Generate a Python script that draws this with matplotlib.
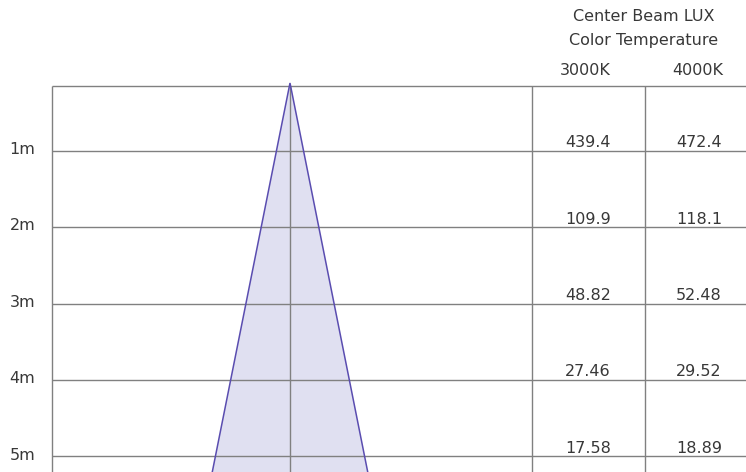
import numpy as np
import matplotlib
matplotlib.use("Agg")
import matplotlib.pyplot as plt

# ---- data ----
distances_m = [1, 2, 3, 4, 5]
row_labels = ["1m", "2m", "3m", "4m", "5m"]
color_temps = ["3000K", "4000K"]
lux_3000k = ["439.4", "109.9", "48.82", "27.46", "17.58"]
lux_4000k = ["472.4", "118.1", "52.48", "29.52", "18.89"]
beam_angle_deg = 22.6
header_title = "Center Beam LUX"
header_sub = "Color Temperature"

# ---- layout (in meter units; 1 m row = 76.4 px) ----
PX = 76.4
W, H = 746, 472
def xm(px):
    return px / PX
def ym(px):
    return 1 + (px - 150.7) / PX

fig = plt.figure(figsize=(W / 100, H / 100), dpi=100)
ax = fig.add_axes([0, 0, 1, 1])
ax.set_xlim(0, xm(W))
ax.set_ylim(ym(H), ym(0))
ax.axis("off")

grid_c = "#808080"
txt_c = "#383838"
fs = 11.5
font = "DejaVu Sans"

top = ym(85.5)
bottom = ym(H + 5)
left = xm(51.5)
right = xm(W + 5)
center_x = xm(290)
col_div = [xm(532), xm(644.5)]
col_centers = [xm(588), xm(699)]
apex_y = ym(83)

# beam triangle
half = np.tan(np.radians(beam_angle_deg / 2))
depth = bottom - apex_y
ax.fill([center_x, center_x - half * depth, center_x + half * depth],
        [apex_y, bottom, bottom], color="#e0e0f1", lw=0, zorder=1)
ax.plot([center_x - half * depth, center_x, center_x + half * depth],
        [bottom, apex_y, bottom], color="#5a4db0", lw=1.1, zorder=3,
        solid_joinstyle="miter")

# grid
ax.hlines([top] + distances_m, left, right, colors=grid_c, lw=1.0, zorder=2)
ax.vlines([left, center_x] + col_div, top, bottom, colors=grid_c, lw=1.0, zorder=2)

# row labels
for d, lab in zip(distances_m, row_labels):
    ax.text(xm(22.5), d + 3.3 / PX, lab, ha="center", va="baseline",
            fontsize=fs, color=txt_c, family=font)

# values
for col, vals in enumerate([lux_3000k, lux_4000k]):
    for d, v in zip(distances_m, vals):
        ax.text(col_centers[col], d - 3.4 / PX, v, ha="center", va="baseline",
                fontsize=fs, color=txt_c, family=font)

# headers
ax.text(xm(644), ym(20.7), header_title, ha="center", va="baseline",
        fontsize=fs, color=txt_c, family=font)
ax.text(xm(644), ym(45), header_sub, ha="center", va="baseline",
        fontsize=fs, color=txt_c, family=font)
for cx, t in zip([xm(585.5), xm(697.5)], color_temps):
    ax.text(cx, ym(75), t, ha="center", va="baseline",
            fontsize=fs, color=txt_c, family=font)

fig.savefig("out.png", dpi=100)
